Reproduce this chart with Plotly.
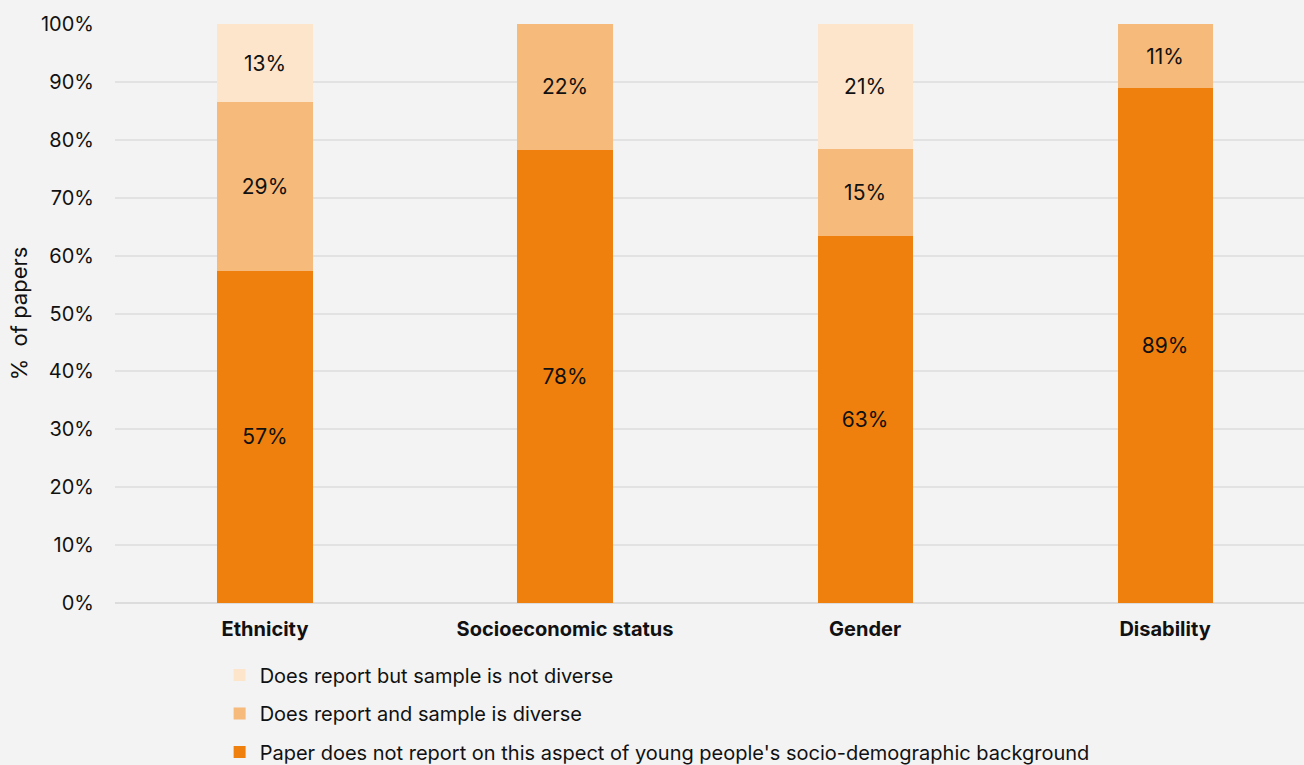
import plotly.graph_objects as go

categories = ["Ethnicity", "Socioeconomic status", "Gender", "Disability"]
not_report = [57.4, 78.3, 63.4, 88.9]
report_diverse = [29.1, 21.7, 15.0, 11.1]
report_not_diverse = [13.5, 0, 21.6, 0]
lbl_not_report = ["57%", "78%", "63%", "89%"]
lbl_diverse = ["29%", "22%", "15%", "11%"]
lbl_not_diverse = ["13%", "", "21%", ""]

names = [
    "Paper does not report on this aspect of young people's socio-demographic background",
    "Does report and sample is diverse",
    "Does report but sample is not diverse",
]
colors = ["#F0800E", "#F6BA7B", "#FDE5CC"]
ranks = [3, 2, 1]
FONT = "Inter"

fig = go.Figure()
for i, (vals, lbls) in enumerate([(not_report, lbl_not_report),
                                  (report_diverse, lbl_diverse),
                                  (report_not_diverse, lbl_not_diverse)]):
    fig.add_trace(go.Bar(
        x=categories, y=vals, name=names[i], text=lbls,
        textposition="inside", insidetextanchor="middle",
        textfont=dict(size=21, color="#111111", family=FONT),
        marker=dict(color=colors[i], line=dict(width=0)),
        width=0.317, legendgroup=str(i), legendrank=ranks[i], hoverinfo="skip",
    ))

fig.update_layout(
    barmode="stack",
    width=1304, height=765,
    margin=dict(l=115, r=0, t=24, b=162, autoexpand=False),
    paper_bgcolor="#F3F3F3", plot_bgcolor="#F3F3F3",
    font=dict(family=FONT, size=20, color="#111111"),
    uniformtext=dict(minsize=10),
    xaxis=dict(
        range=[-0.5, 3.463], showgrid=False, showline=False, zeroline=False,
        tickfont=dict(size=20, family=FONT, weight="bold"),
        ticks="", ticklabelstandoff=12,
    ),
    yaxis=dict(
        range=[0, 100], tickvals=list(range(0, 101, 10)),
        ticktext=[f"{v}%" for v in range(0, 101, 10)],
        gridcolor="#E2E2E2", gridwidth=1.5, zeroline=True, zerolinecolor="#DCDCDC",
        zerolinewidth=2, showline=False, ticks="", ticklabelstandoff=20,
        tickfont=dict(size=20),
        title=dict(text="%  of papers", font=dict(size=22), standoff=7),
    ),
    legend=dict(
        orientation="v", traceorder="grouped", tracegroupgap=9.5,
        x=0.088, xanchor="left", y=-0.0905, yanchor="top",
        font=dict(size=20), itemwidth=30, bgcolor="rgba(0,0,0,0)",
    ),
    showlegend=True,
)

fig.write_html("out.html")
